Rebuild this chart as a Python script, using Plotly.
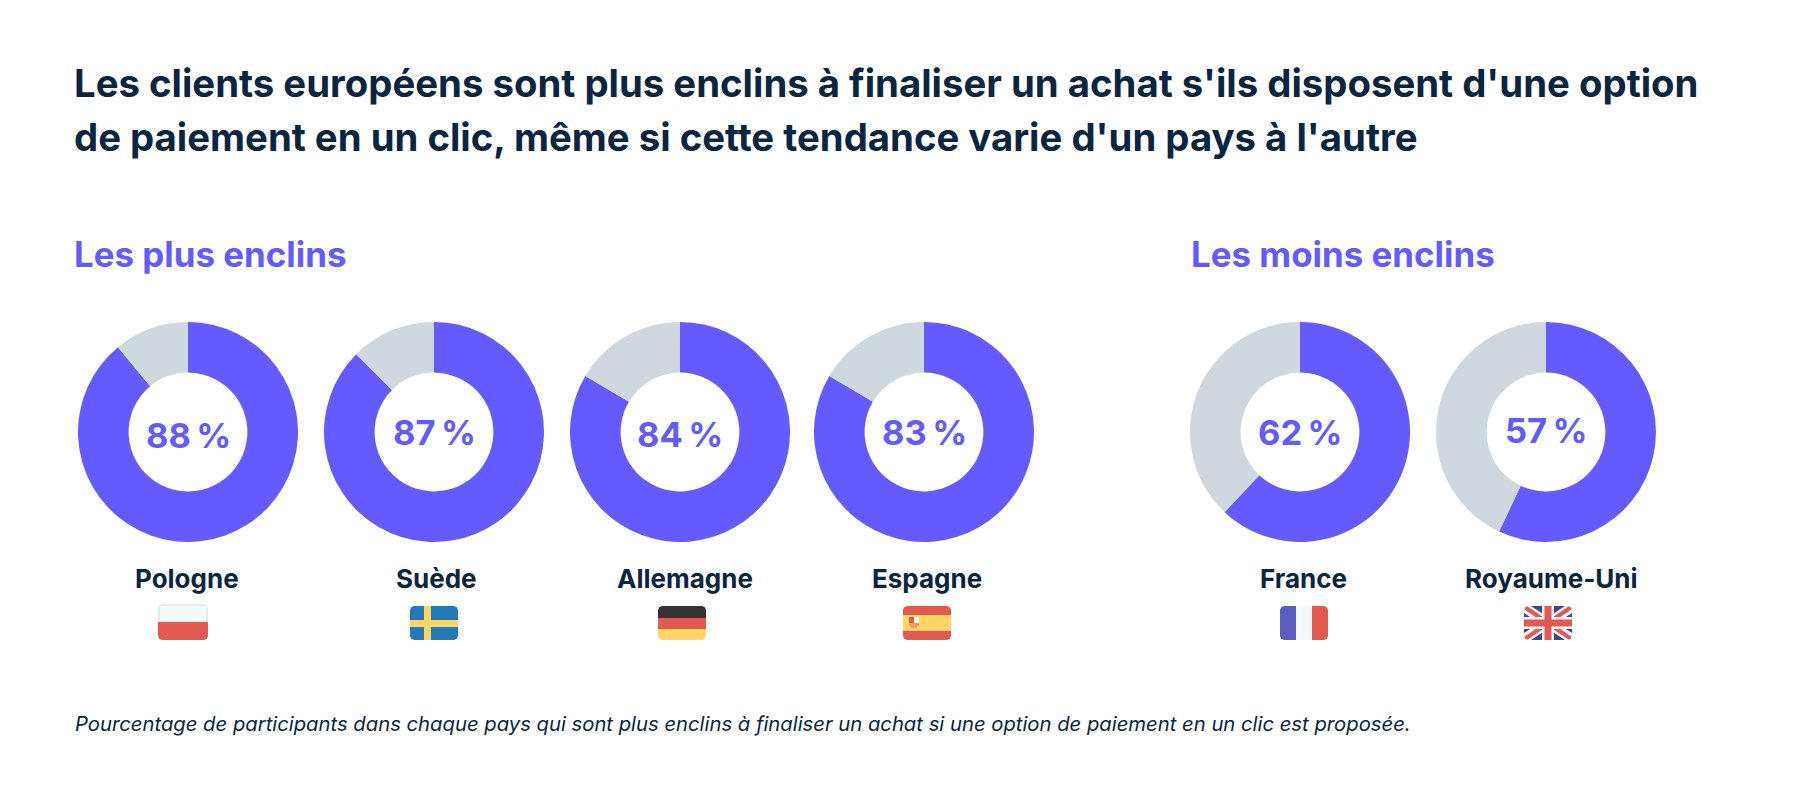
import plotly.graph_objects as go

pays = ["Pologne", "Suède", "Allemagne", "Espagne", "France", "Royaume-Uni"]
etiquettes = ["88\u202f%", "87\u202f%", "84\u202f%", "83\u202f%", "62\u202f%", "57\u202f%"]
enclins = [89, 87.5, 83.5, 83.5, 62, 57]
autres = [11, 12.5, 16.5, 16.5, 38, 43]

titre_1 = "Les clients européens sont plus enclins à finaliser un achat s'ils disposent d'une option"
titre_2 = "de paiement en un clic, même si cette tendance varie d'un pays à l'autre"
groupe_1 = "Les plus enclins"
groupe_2 = "Les moins enclins"
note = "Pourcentage de participants dans chaque pays qui sont plus enclins à finaliser un achat si une option de paiement en un clic est proposée."

W, H = 1800, 802
VIOLET = "#635BFF"
GRIS = "#CFD7DF"
MARINE = "#0A2540"
POLICE = "Inter"
ROUGE = "#E25950"
JAUNE = "#FFD566"
BLEU = "#5A5CC0"
BLANC = "#F6F9FC"

# positions en pixels
centres_x = [188, 434, 680, 924, 1300, 1546]
centre_y = 432
rayon = 110
decal_pct = [3, 0, 2, 0, 0, -2]
noms_x = [187, 436, 685, 927, 1303, 1551]
flags_x = [183, 434, 682, 927, 1304, 1548]


def px(x):
    return x / W


def py(y):
    return 1 - y / H


def texte(x, y, s, taille, couleur=MARINE, poids=700, ancre="center", style="normal"):
    return dict(x=px(x), y=py(y), xref="paper", yref="paper", text=s, showarrow=False,
                xanchor=ancre, yanchor="middle",
                font=dict(family=POLICE, size=taille, color=couleur, weight=poids, style=style))


def rect(x0, y0, x1, y1, couleur):
    return dict(type="rect", xref="paper", yref="paper", x0=px(x0), x1=px(x1), y0=py(y1), y1=py(y0),
                fillcolor=couleur, line_width=0, layer="above")


def poly(pts, couleur):
    chemin = "M " + " L ".join(f"{px(a):.5f},{py(b):.5f}" for a, b in pts) + " Z"
    return dict(type="path", xref="paper", yref="paper", path=chemin, fillcolor=couleur,
                line_width=0, layer="above")


def coins(x0, y0, x1, y1, r=4):
    # masque blanc pour arrondir les coins du drapeau
    sortie = []
    for cx, cy, sx, sy in [(x0, y0, 1, 1), (x1, y0, -1, 1), (x0, y1, 1, -1), (x1, y1, -1, -1)]:
        sortie.append(poly([(cx, cy), (cx + sx * r, cy), (cx + sx * r * 0.3, cy + sy * r * 0.3), (cx, cy + sy * r)], "white"))
    return sortie


def diagonales(x0, y0, x1, y1, w, couleur):
    return [
        poly([(x0, y0 + w), (x0, y0), (x0 + w, y0), (x1, y1 - w), (x1, y1), (x1 - w, y1)], couleur),
        poly([(x1, y0 + w), (x1, y0), (x1 - w, y0), (x0, y1 - w), (x0, y1), (x0 + w, y1)], couleur),
    ]


def drapeau(nom, cx):
    x0, x1 = cx - 24, cx + 24
    y0, y1 = 606, 640
    s = []
    if nom == "Pologne":
        x0, x1 = cx - 25, cx + 25
        s += [rect(x0, y0 - 2, x1, 622, "#E6EBF1"), rect(x0 + 2, y0, x1 - 2, 622, BLANC), rect(x0, 622, x1, y1, ROUGE)]
        s += coins(x0, y0 - 2, x1, y1)
    elif nom == "Suède":
        s += [rect(x0, y0, x1, y1, "#217AB7"), rect(x0, 620, x1, 627, JAUNE), rect(x0 + 14, y0, x0 + 21, y1, JAUNE)]
        s += coins(x0, y0, x1, y1)
    elif nom == "Allemagne":
        s += [rect(x0, y0, x1, 618, "#333333"), rect(x0, 618, x1, 629, ROUGE), rect(x0, 629, x1, y1, JAUNE)]
        s += coins(x0, y0, x1, y1)
    elif nom == "Espagne":
        s += [rect(x0, y0, x1, y1, ROUGE), rect(x0, 615, x1, 631, JAUNE),
              rect(x0 + 6, 617, x0 + 11, 623, ROUGE), rect(x0 + 11, 617, x0 + 16, 623, "white"),
              rect(x0 + 6, 623, x0 + 16, 626, "#F0A050"), rect(x0 + 8, 626, x0 + 14, 628, "#F0A050")]
        s += coins(x0, y0, x1, y1)
    elif nom == "France":
        s += [rect(x0, y0, x0 + 16, y1, BLEU), rect(x0 + 16, y0, x0 + 32, y1, BLANC), rect(x0 + 32, y0, x1, y1, ROUGE)]
        s += coins(x0, y0, x1, y1)
    else:
        cy = (y0 + y1) / 2
        s += [rect(x0, y0, x1, y1, "#3F4491")]
        s += diagonales(x0, y0, x1, y1, 7, BLANC)
        s += diagonales(x0, y0, x1, y1, 3, ROUGE)
        s += [rect(cx - 6, y0, cx + 6, y1, BLANC), rect(x0, cy - 6, x1, cy + 6, BLANC),
              rect(cx - 3.5, y0, cx + 3.5, y1, ROUGE), rect(x0, cy - 3.5, x1, cy + 3.5, ROUGE)]
        s += coins(x0, y0, x1, y1)
    return s


fig = go.Figure()
annots = [
    texte(72, 83, titre_1, 38.35, ancre="left"),
    texte(72, 137, titre_2, 38.35, ancre="left"),
    texte(72, 254, groupe_1, 34.9, VIOLET, ancre="left"),
    texte(1189, 254, groupe_2, 34.9, VIOLET, ancre="left"),
    texte(73, 723, note, 20.25, poids=400, ancre="left", style="italic"),
]
formes = []

for i, nom in enumerate(pays):
    cx = centres_x[i]
    fig.add_trace(go.Pie(
        values=[enclins[i], autres[i]],
        labels=["Plus enclins", "Autres"],
        hole=0.54,
        sort=False,
        direction="clockwise",
        rotation=0,
        textinfo="none",
        showlegend=False,
        marker=dict(colors=[VIOLET, GRIS], line_width=0),
        domain=dict(x=[px(cx - rayon), px(cx + rayon)], y=[py(centre_y + rayon), py(centre_y - rayon)]),
    ))
    annots.append(texte(cx, centre_y + decal_pct[i], etiquettes[i], 34.5, VIOLET))
    annots.append(texte(noms_x[i], 578, nom, 26))
    formes += drapeau(nom, flags_x[i])

fig.update_layout(
    width=W,
    height=H,
    margin=dict(l=0, r=0, t=0, b=0),
    paper_bgcolor="white",
    annotations=annots,
    shapes=formes,
)

fig.write_html("out.html", config={"displayModeBar": False}, post_script="document.body.style.margin='0'")
